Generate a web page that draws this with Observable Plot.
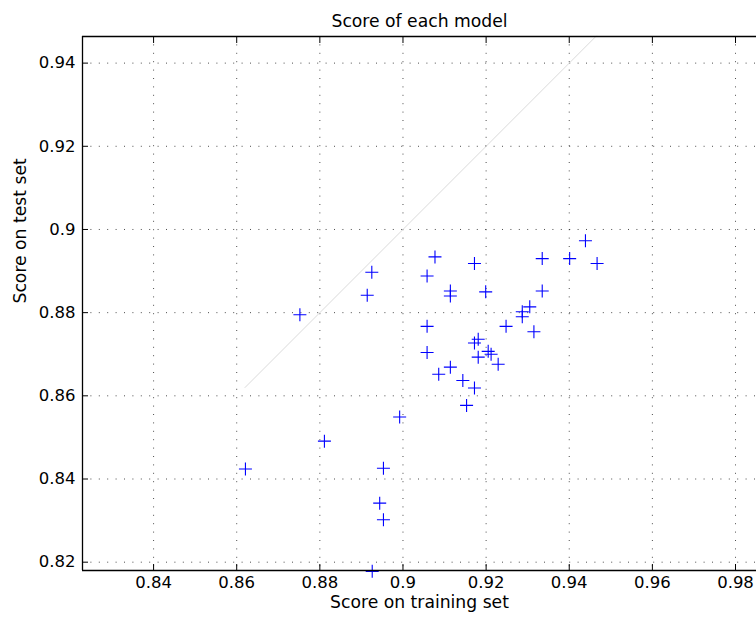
<!DOCTYPE html>
<html>
<head>
<meta charset="utf-8">
<script src="https://cdn.jsdelivr.net/npm/d3@7"></script>
<script src="https://cdn.jsdelivr.net/npm/@observablehq/plot@0.6"></script>
<style>
  html, body { margin: 0; padding: 0; background: #fff; overflow: hidden; }
</style>
</head>
<body>
<div id="chart"></div>
<script>
// ---- data ----
const trainScore = [0.8621, 0.8752, 0.8811, 0.8914, 0.8925, 0.8926, 0.8944, 0.8953, 0.8953, 0.8992,
                    0.9058, 0.9058, 0.9058, 0.9077, 0.9086, 0.9114, 0.9114, 0.9114, 0.9144, 0.9153,
                    0.9172, 0.9172, 0.9181, 0.9181, 0.9172, 0.9199, 0.9205, 0.9212, 0.9229, 0.9248,
                    0.9287, 0.9287, 0.9305, 0.9315, 0.9335, 0.9335, 0.9401, 0.9439, 0.9467];
const testScore  = [0.8424, 0.8795, 0.8491, 0.8842, 0.8897, 0.8178, 0.8342, 0.8426, 0.8302, 0.8549,
                    0.8888, 0.8767, 0.8704, 0.8934, 0.8652, 0.8852, 0.8840, 0.8669, 0.8637, 0.8577,
                    0.8918, 0.8727, 0.8736, 0.8693, 0.8619, 0.8850, 0.8707, 0.8700, 0.8676, 0.8767,
                    0.8802, 0.8790, 0.8814, 0.8754, 0.8930, 0.8852, 0.8930, 0.8973, 0.8918];
const diagonal = [0.862, 0.9465];          // y = x reference line extent
const xTicks = [0.84, 0.86, 0.88, 0.9, 0.92, 0.94, 0.96, 0.98];
const yTicks = [0.82, 0.84, 0.86, 0.88, 0.9, 0.92, 0.94];
const xDomain = [0.8229, 0.98505];
const yDomain = [0.8180, 0.9464];
const titleText = "Score of each model";
const xLabel = "Score on training set";
const yLabel = "Score on test set";

const points = trainScore.map((x, i) => ({x, y: testScore[i]}));

// a thin "+" marker like MATLAB's
const plusSymbol = {
  draw(context, size) {
    const h = Math.sqrt(size / Math.PI);
    context.moveTo(-h, 0); context.lineTo(h, 0);
    context.moveTo(0, -h); context.lineTo(0, h);
  }
};

const fmt = d => String(d);
const font = "DejaVu Sans, Liberation Sans, Arial, sans-serif";
const gridStyle = {stroke: "#000", strokeOpacity: 0.7, strokeDasharray: "1,7.4", strokeWidth: 1};

const chart = Plot.plot({
  width: 756,
  height: 626,
  marginLeft: 82,
  marginRight: 0,
  marginTop: 36,
  marginBottom: 56,
  style: {fontFamily: font, fontSize: "16.5px", color: "#000", background: "#fff", overflow: "visible"},
  x: {domain: xDomain, label: null},
  y: {domain: yDomain, label: null},
  marks: [
    Plot.gridX(xTicks, gridStyle),
    Plot.gridY(yTicks, gridStyle),
    Plot.line(diagonal, {x: d => d, y: d => d, stroke: "#dadada", strokeWidth: 1}),
    Plot.dot(points, {x: "x", y: "y", symbol: plusSymbol, r: 6.5, stroke: "#0000ff", fill: "none", strokeWidth: 1.1}),
    // inward ticks
    Plot.axisX(xTicks, {anchor: "bottom", tickSize: -6, tickFormat: () => "", label: null, stroke: "#000"}),
    Plot.axisX(xTicks, {anchor: "top", tickSize: -6, tickFormat: () => "", label: null, stroke: "#000"}),
    Plot.axisY(yTicks, {anchor: "left", tickSize: -6, tickFormat: () => "", label: null, stroke: "#000"}),
    // tick labels
    Plot.axisX(xTicks, {anchor: "bottom", tickSize: 0, tickPadding: 6, tickFormat: fmt, label: null, fontSize: 16.5}),
    Plot.axisY(yTicks, {anchor: "left", tickSize: 0, tickPadding: 7, tickFormat: fmt, label: null, fontSize: 16.5}),
    // axes box (no right side visible)
    Plot.ruleY([yDomain[0], yDomain[1]], {stroke: "#000", strokeWidth: 1.3}),
    Plot.ruleX([xDomain[0]], {stroke: "#000", strokeWidth: 1.3}),
    // title and axis labels
    Plot.text([titleText], {frameAnchor: "top", dy: -22, fontSize: 17.2, fill: "#000"}),
    Plot.text([xLabel], {frameAnchor: "bottom", dy: 37, fontSize: 17.2, fill: "#000"}),
    Plot.text([yLabel], {frameAnchor: "left", dx: -62, rotate: -90, fontSize: 17.2, fill: "#000"})
  ]
});
document.getElementById("chart").appendChild(chart);
</script>
</body>
</html>
